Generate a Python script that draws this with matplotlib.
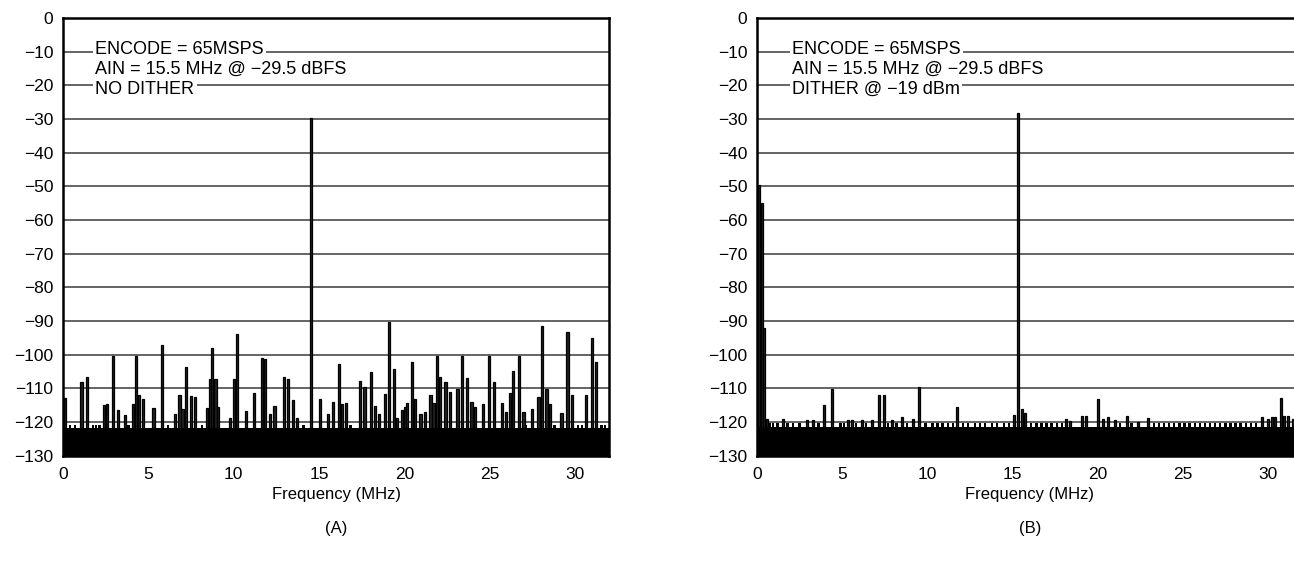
import matplotlib
matplotlib.use("Agg")
import matplotlib.pyplot as plt

plt.rcParams['font.family'] = ['Liberation Sans', 'DejaVu Sans']

# ---- data ----
# (A) no dither: spur frequency (MHz) and level (dBFS)
freq_a = [0.12, 1.09, 1.42, 2.39, 2.60, 2.93, 3.24, 3.63, 4.08, 4.29, 4.47, 4.69,
          5.31, 5.80, 6.56, 6.83, 7.01, 7.19, 7.48, 7.72, 8.45, 8.61, 8.75, 8.94,
          9.10, 9.77, 10.02, 10.21, 10.74, 11.21, 11.66, 11.85, 12.11, 12.40, 12.96,
          13.19, 13.47, 13.72, 14.53, 15.08, 15.54, 15.82, 16.17, 16.35, 16.60, 17.40,
          17.67, 18.04, 18.28, 18.53, 18.86, 19.10, 19.39, 19.58, 19.87, 20.03, 20.15,
          20.44, 20.64, 20.95, 21.20, 21.54, 21.71, 21.91, 22.08, 22.42, 22.67, 23.12,
          23.39, 23.70, 23.94, 24.13, 24.62, 24.96, 25.25, 25.73, 25.97, 26.19, 26.38,
          26.71, 26.99, 27.49, 27.87, 28.08, 28.34, 28.55, 29.22, 29.57, 29.82, 30.65,
          31.00, 31.23]
level_a = [-112.8, -108.2, -106.7, -115.1, -114.6, -100.5, -116.6, -118.1, -114.8, -100.5,
           -112.1, -113.3, -115.8, -97.3, -117.6, -112.1, -116.1, -103.7, -112.4, -112.5,
           -115.9, -107.2, -98.1, -107.3, -115.5, -119.0, -107.2, -93.8, -116.8, -111.3,
           -101.1, -101.3, -117.8, -115.2, -106.8, -107.2, -113.6, -119.0, -29.6, -113.2,
           -117.6, -114.0, -102.9, -114.8, -114.3, -107.8, -109.5, -105.3, -115.4, -117.8,
           -111.6, -90.3, -104.2, -118.9, -116.5, -115.5, -114.3, -102.2, -113.2, -117.8,
           -117.2, -112.1, -114.3, -100.5, -106.6, -108.1, -111.0, -110.2, -100.5, -106.9,
           -114.0, -115.7, -114.8, -100.5, -108.3, -114.3, -117.2, -111.3, -105.0, -100.5,
           -117.0, -116.1, -112.5, -91.5, -110.2, -114.8, -117.3, -93.2, -111.9, -111.9,
           -95.0, -102.2]
small_a = [0.40, 0.70, 1.75, 1.95, 2.15, 3.85, 6.15, 8.15, 14.10, 16.85, 27.10, 28.80,
           30.20, 30.40, 31.55, 31.75]
small_level_a = -121.0
floor_a = -121.7

# (B) dither @ -19 dBm
freq_b = [0.14, 0.28, 0.39, 0.57, 1.54, 2.95, 3.27, 3.93, 4.40, 5.33, 5.56, 6.18, 6.75,
          7.15, 7.47, 7.94, 8.53, 9.18, 9.51, 11.74, 15.09, 15.34, 15.54, 15.75, 18.13,
          18.38, 19.07, 19.34, 20.00, 20.32, 20.59, 21.02, 21.74, 22.35, 22.94, 29.67,
          30.02, 30.22, 30.42, 30.75, 30.96, 31.20, 31.45]
level_b = [-49.7, -55.1, -92.1, -119.1, -119.2, -119.4, -119.4, -114.9, -110.2, -119.5,
           -119.5, -119.4, -119.5, -112.0, -112.0, -119.4, -118.6, -119.1, -109.5, -115.6,
           -118.1, -28.3, -116.1, -117.3, -119.3, -119.8, -118.4, -118.3, -113.1, -119.3,
           -118.7, -119.4, -118.3, -120.0, -119.0, -118.7, -119.1, -118.7, -118.7, -112.9,
           -118.2, -118.3, -119.3]
small_b = [0.75, 0.95, 1.20, 1.80, 2.10, 2.50, 3.60, 4.90, 5.10, 5.80, 6.40, 7.70, 8.20,
           8.80, 9.90, 10.30, 10.60, 10.90, 11.20, 11.50, 12.10, 12.40, 12.80, 13.10,
           13.40, 13.80, 14.10, 14.50, 14.80, 16.10, 16.40, 16.70, 17.00, 17.30, 17.60,
           17.90, 21.30, 22.00, 23.30, 23.60, 23.90, 24.20, 24.50, 24.80, 25.10, 25.40,
           25.70, 26.00, 26.30, 26.60, 26.90, 27.20, 27.50, 27.80, 28.10, 28.40, 28.70,
           29.00, 29.30]
small_level_b = -120.4
floor_b = -121.5

notes_a = ["ENCODE = 65MSPS", "AIN = 15.5 MHz @ \u221229.5 dBFS", "NO DITHER"]
notes_b = ["ENCODE = 65MSPS", "AIN = 15.5 MHz @ \u221229.5 dBFS", "DITHER @ \u221219 dBm"]

y_min, y_max = -130, 0
f_max = 32
y_ticks = list(range(0, -131, -10))
x_ticks = [0, 5, 10, 15, 20, 25, 30]

fig = plt.figure(figsize=(12.94, 5.61), dpi=100)
W, H = 1294, 561
ax_a = fig.add_axes([63 / W, 1 - 455.5 / H, 546 / W, 437.5 / H])
ax_b = fig.add_axes([757 / W, 1 - 455.5 / H, 545 / W, 437.5 / H])


def draw_panel(ax, freq, level, small, small_level, floor, notes, note_x):
    ax.set_xlim(0, f_max)
    ax.set_ylim(y_min, y_max)
    for y in y_ticks[1:-1]:
        ax.axhline(y, color='#3a3a3a', lw=1.1, zorder=1)
    # noise floor: solid black band, spurs stand on top of it
    ax.fill_between([0, f_max], y_min, floor, color='black', lw=0, zorder=2)
    ax.bar(small, [small_level - floor] * len(small), bottom=floor, width=0.14,
           color='black', zorder=3)
    ax.bar(freq, [v - floor for v in level], bottom=floor, width=0.13,
           facecolor='#222222', edgecolor='black', linewidth=0.9, zorder=3)
    ys = [-10.7, -16.7, -22.6]
    for s, y in zip(notes, ys):
        ax.text(note_x, y, s, fontsize=13, va='baseline', ha='left', zorder=4,
                bbox=dict(facecolor='white', edgecolor='none', pad=1.5))
    ax.set_yticks(y_ticks)
    ax.set_yticklabels([str(t).replace('-', '\u2212') for t in y_ticks])
    ax.set_xticks(x_ticks)
    ax.tick_params(length=0, labelsize=12.5)
    ax.tick_params(axis='y', pad=7)
    ax.tick_params(axis='x', pad=8)
    ax.set_xlabel('Frequency (MHz)', fontsize=12, labelpad=4)
    for sp in ax.spines.values():
        sp.set_linewidth(1.8)
        sp.set_zorder(5)


draw_panel(ax_a, freq_a, level_a, small_a, small_level_a, floor_a, notes_a, 1.9)
draw_panel(ax_b, freq_b, level_b, small_b, small_level_b, floor_b, notes_b, 2.05)

fig.text(336 / W, 1 - 528 / H, '(A)', ha='center', va='center', fontsize=12)
fig.text(1030 / W, 1 - 528 / H, '(B)', ha='center', va='center', fontsize=12)

fig.savefig('out.png', dpi=100)
